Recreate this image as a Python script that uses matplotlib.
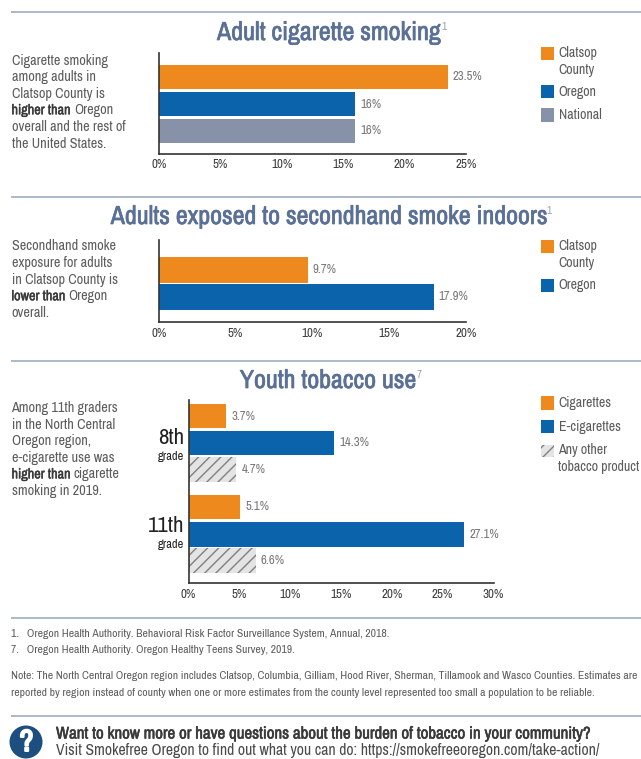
import matplotlib
matplotlib.use("Agg")
import matplotlib.pyplot as plt
import matplotlib.patheffects as pe
from matplotlib.patches import Rectangle, Circle
from matplotlib import font_manager as fm

W, H = 641, 759
names = {f.name for f in fm.fontManager.ttflist}
NARROW = [n for n in ("Archivo Narrow", "PT Sans Narrow", "Roboto Condensed") if n in names]
FONT = NARROW[0] if NARROW else "Liberation Sans"
K = 1.0 if NARROW else 0.84
plt.rcParams["font.family"] = [FONT, "Liberation Sans", "DejaVu Sans"]
plt.rcParams["hatch.linewidth"] = 1.0
plt.rcParams["hatch.color"] = "#808080"

# Data
smoke_cats = ["Clatsop County", "Oregon", "National"]
smoke_vals = [23.5, 16, 16]
smoke_labels = ["23.5%", "16%", "16%"]
smoke_ticks = [0, 5, 10, 15, 20, 25]

second_cats = ["Clatsop County", "Oregon"]
second_vals = [9.7, 17.9]
second_labels = ["9.7%", "17.9%"]
second_ticks = [0, 5, 10, 15, 20]

youth_cats = ["Cigarettes", "E-cigarettes", "Any other tobacco product"]
youth_8th = [3.7, 14.3, 4.7]
youth_11th = [5.1, 27.1, 6.6]
youth_ticks = [0, 5, 10, 15, 20, 25, 30]

ORANGE, BLUE, GREY, HATCH = "#ee8a1d", "#0a63ab", "#8791a8", "#e4e4e4"
TITLE, TXT, TICK, RULE = "#5a7097", "#5c5c5c", "#3c3c3c", "#a6b4c3"

fig = plt.figure(figsize=(W / 100, H / 100), dpi=100, facecolor="white")
ov = fig.add_axes([0, 0, 1, 1], zorder=5)
ov.set_xlim(0, W)
ov.set_ylim(H, 0)
ov.axis("off")
ov.patch.set_alpha(0)


def embolden(t, color, w=0.55):
    # The narrow face has no bold cut, so thicken the real text with a stroke
    t.set_path_effects([pe.withStroke(linewidth=w, foreground=color)])
    return t


def make_axes(x0, x1, top, bottom, xmax, ylim, ticks):
    ax = fig.add_axes([x0 / W, 1 - bottom / H, (x1 - x0) / W, (bottom - top) / H])
    ax.set_xlim(0, xmax)
    ax.set_ylim(*ylim)
    ax.set_yticks([])
    ax.set_xticks(ticks)
    ax.set_xticklabels([f"{t}%" for t in ticks], fontsize=9.3 * K, color=TICK)
    ax.tick_params(axis="x", length=0, pad=4)
    for s in ("top", "right"):
        ax.spines[s].set_visible(False)
    for s in ("left", "bottom"):
        ax.spines[s].set_color("#333333")
        ax.spines[s].set_linewidth(1.2)
    return ax


def bar_labels(ax, ys, vals, labels, xmax, x0, x1):
    off = 5 * xmax / (x1 - x0)
    for y, v, l in zip(ys, vals, labels):
        ax.text(v + off, y, l, fontsize=9.2 * K, color="#777777", va="center", ha="left")


def rich(x, y, parts, size=10.25):
    r = fig.canvas.get_renderer()
    for s, bold in parts:
        color = "#3a3a3a" if bold else TXT
        t = ov.text(x, y, s, fontsize=size * K, color=color, va="center", ha="left",
                    fontweight="bold" if bold else "normal")
        if bold:
            embolden(t, color, 0.3)
        x = t.get_window_extent(r).x1 + 2.6


def left_block(top, lines, step=16.6):
    for i, line in enumerate(lines):
        rich(11.5, top + i * step, line)


def title(x, y, s, sup):
    r = fig.canvas.get_renderer()
    t = ov.text(x, y, s, fontsize=18.7 * K, fontweight="bold", color=TITLE, va="center", ha="center")
    embolden(t, TITLE, 0.5)
    e = t.get_window_extent(r)
    ov.text(e.x1 + 1, y - 5, sup, fontsize=8 * K, color="#9aa3b0", va="center", ha="left")


def legend_box(y0, y1, color, hatch=None):
    ov.add_patch(Rectangle((541, y0), 13, y1 - y0, facecolor=color,
                           edgecolor="#808080" if hatch else color, hatch=hatch, lw=0))


def legend_text(y, s):
    ov.text(558.5, y, s, fontsize=10.0 * K, color=TXT, va="center", ha="left")


for y in (12, 197, 360.5, 618, 716):
    ov.plot([11, W], [y, y], color=RULE, lw=1.3, solid_capstyle="butt")

# Panel 1
title(328.5, 32.5, "Adult cigarette smoking", "1")
ax1 = make_axes(158.8, 466, 53, 153.5, 25, (100.5, 0), smoke_ticks)
ys1 = [24, 51, 78]
ax1.barh(ys1, smoke_vals, height=24.5, color=[ORANGE, BLUE, GREY])
bar_labels(ax1, ys1, smoke_vals, smoke_labels, 25, 158.8, 466)
left_block(60.5, [[("Cigarette smoking", False)], [("among adults in", False)],
                  [("Clatsop County is", False)],
                  [("higher than", True), ("Oregon", False)],
                  [("overall and the rest of", False)], [("the United States.", False)]])
legend_box(47, 60, ORANGE)
legend_box(85, 98, BLUE)
legend_box(108, 121.5, GREY)
legend_text(53, "Clatsop")
legend_text(70, "County")
legend_text(92, "Oregon")
legend_text(115, "National")

# Panel 2
title(328, 216.5, "Adults exposed to secondhand smoke indoors", "1")
ax2 = make_axes(158.8, 466, 240, 322, 20, (82, 0), second_ticks)
ys2 = [29.5, 56.5]
ax2.barh(ys2, second_vals, height=26, color=[ORANGE, BLUE])
bar_labels(ax2, ys2, second_vals, second_labels, 20, 158.8, 466)
left_block(246.5, [[("Secondhand smoke", False)], [("exposure for adults", False)],
                   [("in Clatsop County is", False)],
                   [("lower than", True), ("Oregon", False)], [("overall.", False)]])
legend_box(240, 253, ORANGE)
legend_box(279, 292, BLUE)
legend_text(246, "Clatsop")
legend_text(263, "County")
legend_text(285, "Oregon")

# Panel 3
title(327.5, 380.5, "Youth tobacco use", "7")
ax3 = make_axes(188.5, 493.5, 400, 583, 30, (183, 0), youth_ticks)
ys8 = [16, 43, 69.5]
ys11 = [107, 134.5, 160.5]
colors3 = [ORANGE, BLUE, HATCH]
for ys, vals in ((ys8, youth_8th), (ys11, youth_11th)):
    bars = ax3.barh(ys, vals, height=24.5, color=colors3)
    bars[2].set_hatch("///")
    bars[2].set_edgecolor("#808080")
    bars[2].set_linewidth(0)
    bar_labels(ax3, ys, vals, [f"{v}%" for v in vals], 30, 188.5, 493.5)
left_block(408, [[("Among 11th graders", False)], [("in the North Central", False)],
                 [("Oregon region,", False)], [("e-cigarette use was", False)],
                 [("higher than", True), ("cigarette", False)], [("smoking in 2019.", False)]])
for y, big in ((438, "8th"), (525.5, "11th")):
    ov.text(184, y, big, fontsize=16.5 * K, color="#222222", va="center", ha="right")
    ov.text(184, y + 18.5, "grade", fontsize=9 * K, color="#222222", va="center", ha="right")
legend_box(396, 410, ORANGE)
legend_box(420, 433, BLUE)
legend_box(445, 457, HATCH, "///")
legend_text(403, "Cigarettes")
legend_text(427, "E-cigarettes")
legend_text(450, "Any other")
legend_text(467, "tobacco product")

# Footnotes
for y, s in ((634, "1.   Oregon Health Authority. Behavioral Risk Factor Surveillance System, Annual, 2018."),
             (650, "7.   Oregon Health Authority. Oregon Healthy Teens Survey, 2019.")):
    ov.text(11, y, s, fontsize=8.38 * K, color=TXT, va="center", ha="left")
for y, s in ((676, "Note: The North Central Oregon region includes Clatsop, Columbia, Gilliam, Hood River, Sherman, Tillamook and Wasco Counties. Estimates are"),
             (693, "reported by region instead of county when one or more estimates from the county level represented too small a population to be reliable.")):
    ov.text(11, y, s, fontsize=8.38 * K, color=TXT, va="center", ha="left")

ov.add_patch(Circle((26, 742), 16.5, facecolor="#1c4f80", edgecolor="none"))
q = ov.text(26.5, 742, "?", fontsize=22 * K, fontweight="bold", color="white", va="center", ha="center")
embolden(q, "white", 1.4)
hd = ov.text(56, 734, "Want to know more or have questions about the burden of tobacco in your community?",
             fontsize=12.15 * K, fontweight="bold", color="#3a3a3a", va="center", ha="left")
embolden(hd, "#3a3a3a", 0.4)
ov.text(56, 751, "Visit Smokefree Oregon to find out what you can do: https://smokefreeoregon.com/take-action/",
        fontsize=11.3 * K, color="#4a4a4a", va="center", ha="left")

fig.savefig("out.png", dpi=100)
